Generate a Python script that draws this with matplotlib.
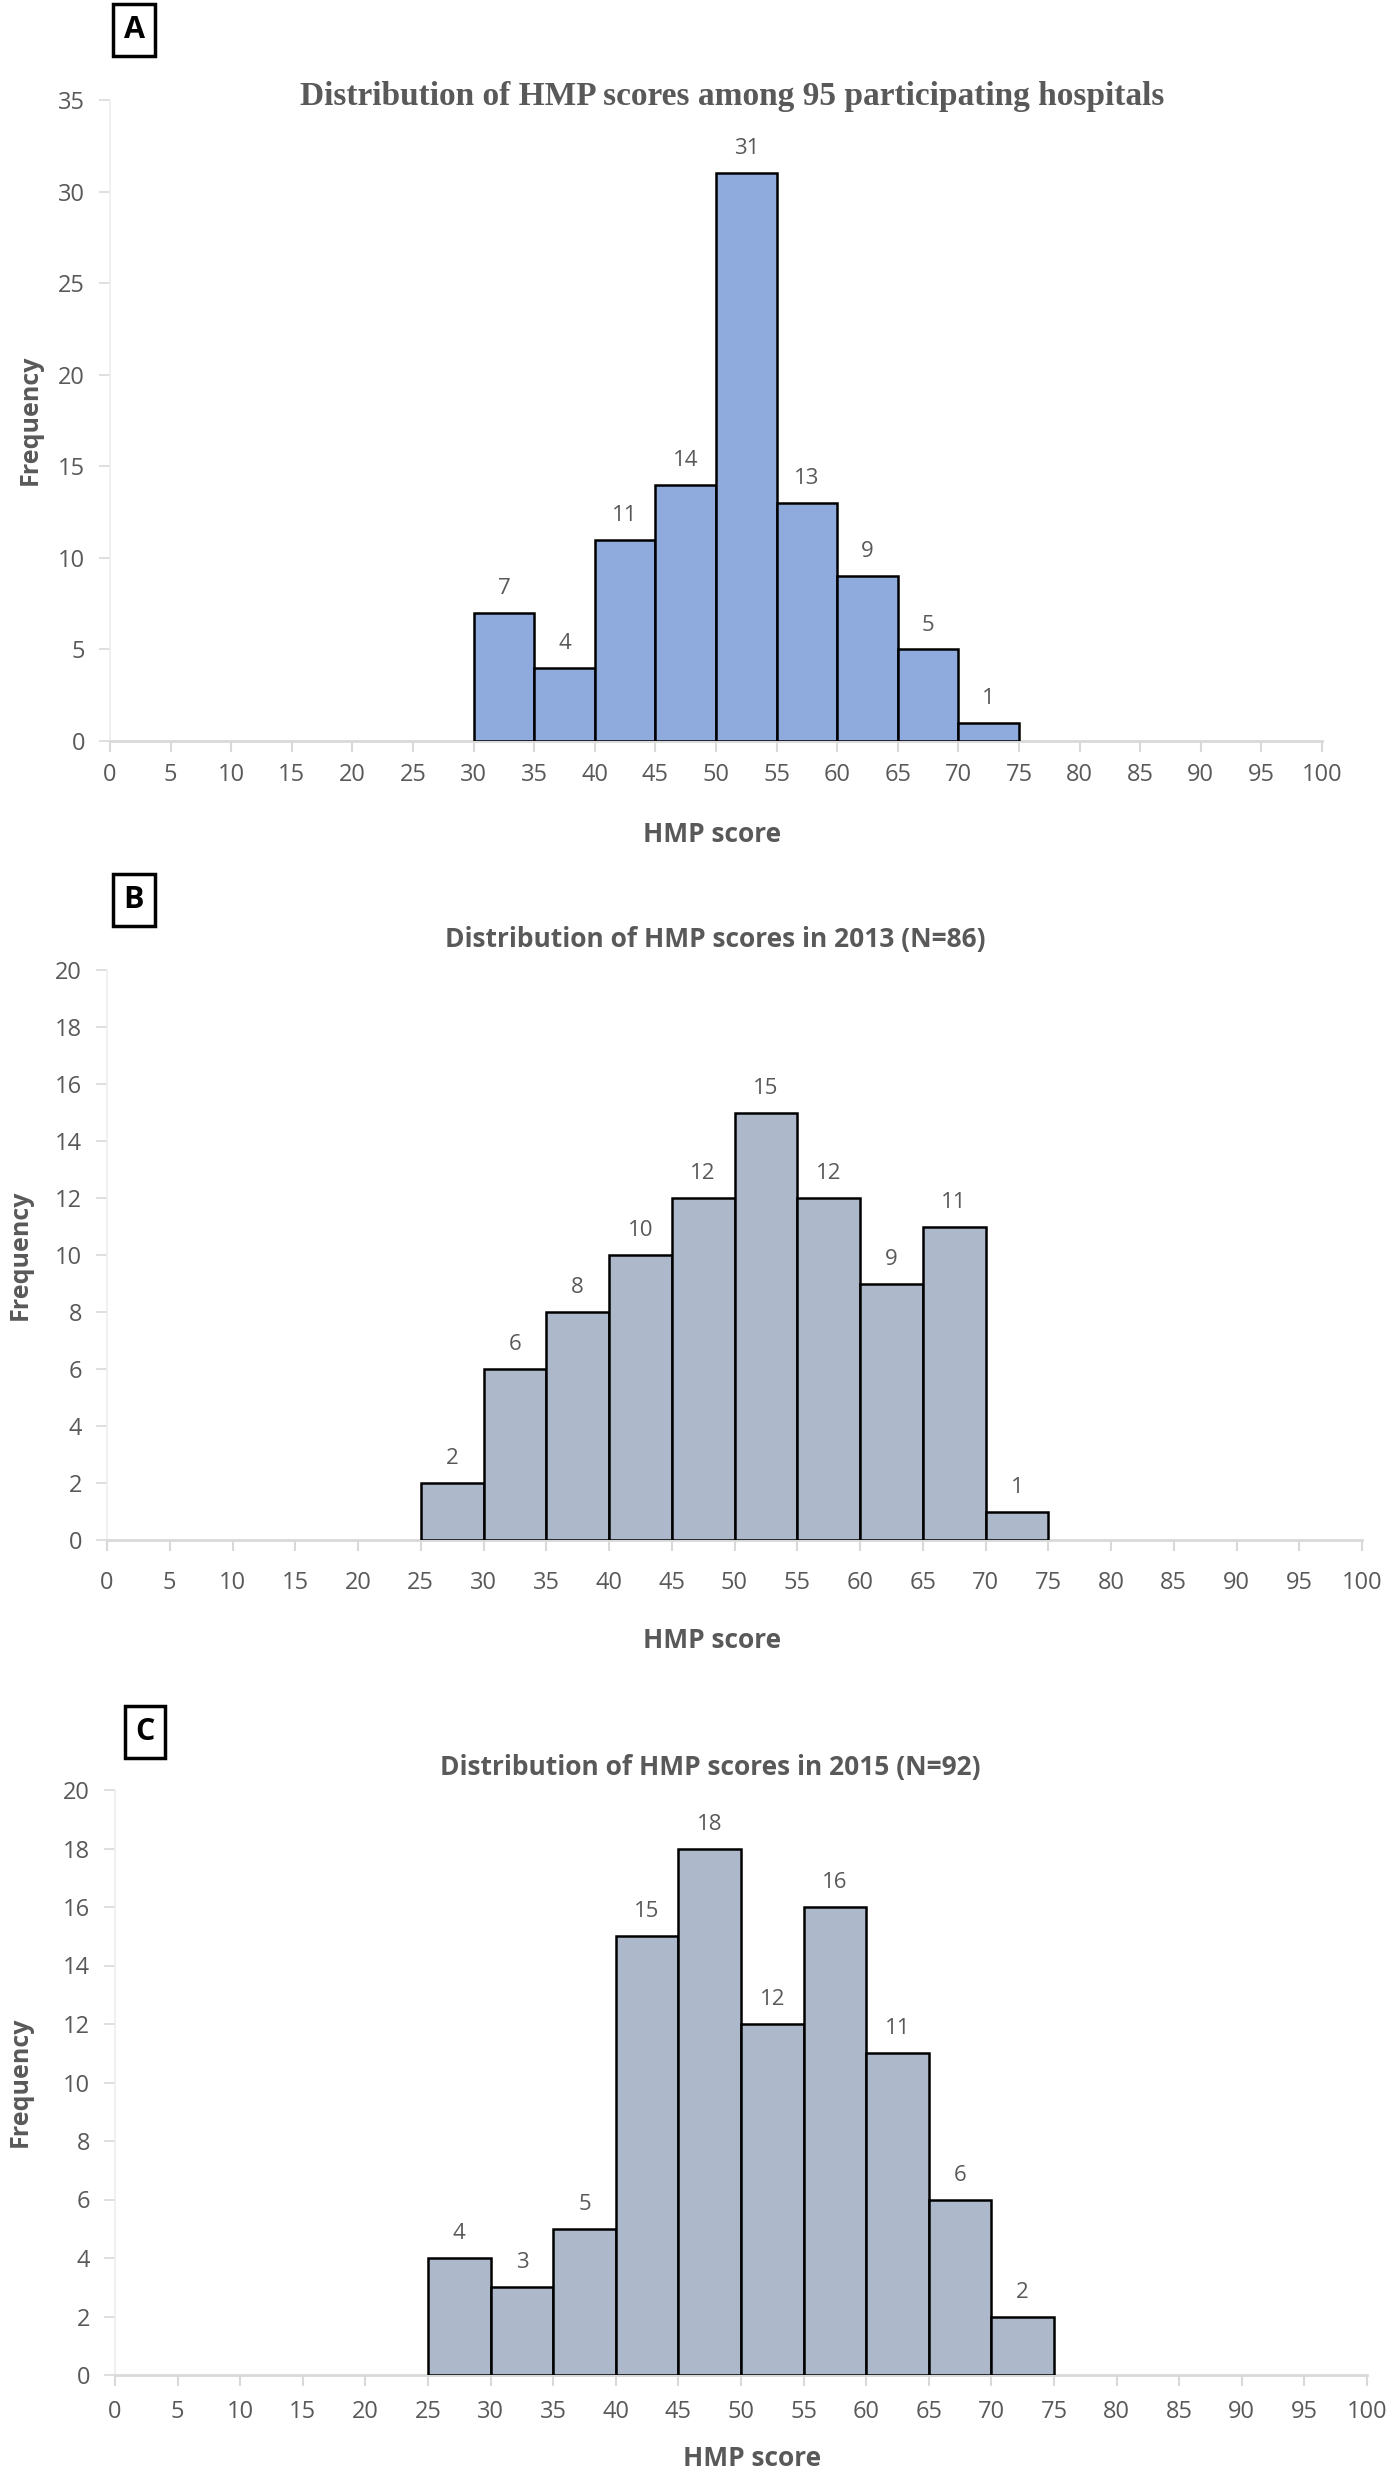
"""Three stacked histograms of HMP scores (panels A, B, C)."""
import matplotlib
matplotlib.use("Agg")
import matplotlib.pyplot as plt
import numpy as np

# ---- data ----
bin_left = [25, 30, 35, 40, 45, 50, 55, 60, 65, 70]
counts_a = [0, 7, 4, 11, 14, 31, 13, 9, 5, 1]
counts_b = [2, 6, 8, 10, 12, 15, 12, 9, 11, 1]
counts_c = [4, 3, 5, 15, 18, 12, 16, 11, 6, 2]
x_ticks = list(range(0, 101, 5))

titles = [
    "Distribution of HMP scores among 95 participating hospitals",
    "Distribution of HMP scores in 2013 (N=86)",
    "Distribution of HMP scores in 2015 (N=92)",
]
panel_letters = ["A", "B", "C"]

GREY = "#595959"
AXIS_GREY = "#D9D9D9"
SANS = ["Open Sans", "DejaVu Sans"]

W, H = 1396, 2481
fig = plt.figure(figsize=(W / 100, H / 100), dpi=100)


def px_rect(left, right, top, bottom):
    # pixel box -> figure fraction [x, y, w, h]
    return [left / W, 1 - bottom / H, (right - left) / W, (bottom - top) / H]


def px(x, y):
    return x / W, 1 - y / H


panels = [
    dict(counts=counts_a, color="#8FAADC", rect=px_rect(110, 1322, 100, 741),
         ymax=35, ystep=5, pad=8, title_font=["Liberation Serif"], title_size=24,
         title=px(732, 97), box=px(134, 30), xlab=px(712, 835), ylab=px(30, 420)),
    dict(counts=counts_b, color="#ADB9CA", rect=px_rect(107, 1362, 970, 1540),
         ymax=20, ystep=2, pad=14, title_font=SANS, title_size=19,
         title=px(715, 940), box=px(134, 900), xlab=px(712, 1640), ylab=px(20, 1255)),
    dict(counts=counts_c, color="#ADB9CA", rect=px_rect(115, 1367, 1790, 2375),
         ymax=20, ystep=2, pad=10, title_font=SANS, title_size=19,
         title=px(710, 1767), box=px(145, 1732), xlab=px(752, 2458), ylab=px(20, 2082)),
]

for p, title, letter in zip(panels, titles, panel_letters):
    ax = fig.add_axes(p["rect"])
    lefts = np.array(bin_left)
    vals = np.array(p["counts"])
    keep = vals > 0
    ax.bar(lefts[keep], vals[keep], width=5, align="edge",
           color=p["color"], edgecolor="black", linewidth=1.8, zorder=3)
    for x, v in zip(lefts[keep], vals[keep]):
        ax.annotate(str(v), (x + 2.5, v), xytext=(0, 10), textcoords="offset points",
                    ha="center", va="bottom", fontsize=16, color=GREY, family=SANS)

    ax.set_xlim(0, 100)
    ax.set_ylim(0, p["ymax"])
    ax.set_xticks(x_ticks)
    ax.set_yticks(np.arange(0, p["ymax"] + 1, p["ystep"]))
    ax.tick_params(axis="x", colors=AXIS_GREY, length=8, width=1.5, pad=p["pad"],
                   labelsize=17, labelcolor=GREY)
    ax.tick_params(axis="y", colors=AXIS_GREY, length=8, width=1.2, pad=10,
                   labelsize=17, labelcolor=GREY)
    for lab in ax.get_xticklabels() + ax.get_yticklabels():
        lab.set_family(SANS)
    for side in ("top", "right"):
        ax.spines[side].set_visible(False)
    ax.spines["bottom"].set_color(AXIS_GREY)
    ax.spines["bottom"].set_linewidth(2)
    ax.spines["left"].set_color("#EDEDED")
    ax.spines["left"].set_linewidth(1.2)

    fig.text(*p["title"], title, ha="center", va="center",
             fontsize=p["title_size"], fontweight="bold", color=GREY,
             family=p["title_font"])
    fig.text(*p["box"], letter, ha="center", va="center",
             fontsize=22, fontweight="bold", family=SANS,
             bbox=dict(boxstyle="square,pad=0.35", facecolor="white",
                       edgecolor="black", linewidth=2.5))
    fig.text(*p["xlab"], "HMP score", ha="center", va="center",
             fontsize=19, fontweight="bold", color=GREY, family=SANS)
    fig.text(*p["ylab"], "Frequency", ha="center", va="center",
             rotation=90, fontsize=18, fontweight="bold", color=GREY, family=SANS)

fig.savefig("out.png", dpi=100)
